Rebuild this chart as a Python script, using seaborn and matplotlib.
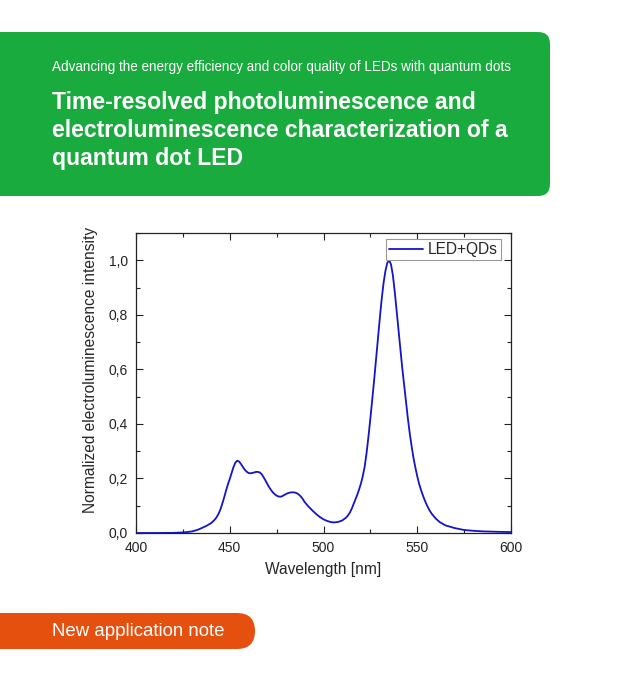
import numpy as np
import pandas as pd
import matplotlib
matplotlib.use("Agg")
import matplotlib.pyplot as plt
from matplotlib.patches import FancyBboxPatch
from matplotlib.ticker import MultipleLocator, FuncFormatter
import seaborn as sns

# ==========================
# Data
# ==========================

wavelength = [400, 410, 420, 425, 428, 430, 433, 435, 437.5, 440, 441, 442, 443, 444,
              445, 446, 447, 448, 449, 450, 451, 452, 453, 454, 455, 456, 457, 458,
              459, 460, 461, 462, 463, 464, 465, 466, 467, 468, 469, 470, 471, 472,
              473, 474, 475, 476, 477, 478, 479, 480, 481, 482, 483, 484, 485, 486,
              487, 488, 489, 490, 492, 494, 496, 498, 500, 502, 504, 505, 506, 508,
              510, 512, 513, 514, 515, 516, 517, 518, 519, 520, 521, 522, 523, 524,
              525, 526, 527, 528, 529, 530, 531, 532, 533, 534, 535, 536, 537, 538,
              539, 540, 541, 542, 543, 544, 545, 546, 547, 548, 549, 550, 551, 552,
              553, 554, 555, 556, 557, 558, 560, 562, 565, 570, 575, 580, 585, 590,
              595, 600]

intensity = [0.0, 0.0, 0.0005, 0.002, 0.004, 0.006, 0.012, 0.018, 0.026, 0.036, 0.042,
             0.049, 0.058, 0.070, 0.086, 0.107, 0.130, 0.155, 0.178, 0.198, 0.220,
             0.242, 0.258, 0.265, 0.262, 0.253, 0.242, 0.232, 0.225, 0.220, 0.219,
             0.220, 0.222, 0.224, 0.224, 0.222, 0.216, 0.205, 0.193, 0.180, 0.168,
             0.158, 0.149, 0.142, 0.137, 0.134, 0.133, 0.135, 0.139, 0.143, 0.146,
             0.148, 0.149, 0.149, 0.148, 0.145, 0.140, 0.133, 0.124, 0.113, 0.097,
             0.083, 0.070, 0.059, 0.050, 0.044, 0.040, 0.039, 0.039, 0.041, 0.046,
             0.056, 0.064, 0.074, 0.088, 0.105, 0.122, 0.140, 0.160, 0.182, 0.210,
             0.245, 0.295, 0.355, 0.420, 0.490, 0.560, 0.635, 0.710, 0.785, 0.855,
             0.915, 0.960, 0.990, 1.000, 0.985, 0.945, 0.885, 0.815, 0.745, 0.675,
             0.605, 0.543, 0.480, 0.420, 0.365, 0.318, 0.275, 0.240, 0.208, 0.180,
             0.158, 0.138, 0.120, 0.104, 0.090, 0.078, 0.068, 0.052, 0.040, 0.028,
             0.018, 0.011, 0.008, 0.006, 0.005, 0.004, 0.0035]

df = pd.DataFrame({"Wavelength": wavelength, "Intensity": intensity})

subtitle = "Advancing the energy efficiency and color quality of LEDs with quantum dots"
title_lines = ["Time-resolved photoluminescence and",
               "electroluminescence characterization of a",
               "quantum dot LED"]
badge_text = "New application note"

# ==========================
# Figure
# ==========================

sns.set_style("ticks")
plt.rcParams["font.family"] = ["Liberation Sans", "DejaVu Sans"]

W, H = 634, 680
fig = plt.figure(figsize=(W / 100, H / 100), dpi=100)

# background layer in pixel units
bg = fig.add_axes([0, 0, 1, 1])
bg.set_xlim(0, W)
bg.set_ylim(H, 0)
bg.axis("off")

bg.add_patch(FancyBboxPatch((-30, 32), 580, 164,
                            boxstyle="round,pad=0,rounding_size=12",
                            facecolor="#1aab3e", edgecolor="none"))
bg.add_patch(FancyBboxPatch((-40, 613), 295, 36,
                            boxstyle="round,pad=0,rounding_size=18",
                            facecolor="#e6500f", edgecolor="none"))

bg.text(52, 67, subtitle, color="white", fontsize=9.75, va="center")
for i, line in enumerate(title_lines):
    bg.text(52, 103 + i * 27.5, line, color="white", fontsize=16.6,
            fontweight="bold", va="center")
bg.text(52, 631, badge_text, color="white", fontsize=13.4, va="center")

# ==========================
# Spectrum
# ==========================

ax = fig.add_axes([136 / W, 1 - 533 / H, 375 / W, 300 / H])

sns.lineplot(data=df, x="Wavelength", y="Intensity", ax=ax,
             color="#1414c8", linewidth=1.3, label="LED+QDs")

ax.set_xlim(400, 600)
ax.set_ylim(0, 1.1)
ax.xaxis.set_major_locator(MultipleLocator(50))
ax.xaxis.set_minor_locator(MultipleLocator(25))
ax.yaxis.set_major_locator(MultipleLocator(0.2))
ax.yaxis.set_minor_locator(MultipleLocator(0.1))
ax.yaxis.set_major_formatter(FuncFormatter(lambda v, p: f"{v:.1f}".replace(".", ",")))

ax.tick_params(which="both", direction="in", top=True, right=True,
               labelsize=10, colors="#222222")
ax.tick_params(which="major", length=5, width=0.8, pad=6)
ax.tick_params(which="minor", length=3, width=0.8)
for s in ax.spines.values():
    s.set_linewidth(0.9)
    s.set_color("#222222")

ax.set_xlabel("Wavelength [nm]", fontsize=11.2, labelpad=5)
ax.set_ylabel("Normalized electroluminescence intensity", fontsize=11.2, labelpad=6)
ax.yaxis.set_label_coords(-0.1, 0.545)

leg = ax.legend(loc="upper right", bbox_to_anchor=(1 - 10 / 375, 1 - 6 / 300),
                borderaxespad=0, fontsize=11.2, fancybox=False, framealpha=1,
                edgecolor="#999999", handlelength=2.2, handletextpad=0.3,
                borderpad=0.2)
leg.get_frame().set_linewidth(0.8)

fig.savefig("out.png", dpi=100)
plt.close(fig)
